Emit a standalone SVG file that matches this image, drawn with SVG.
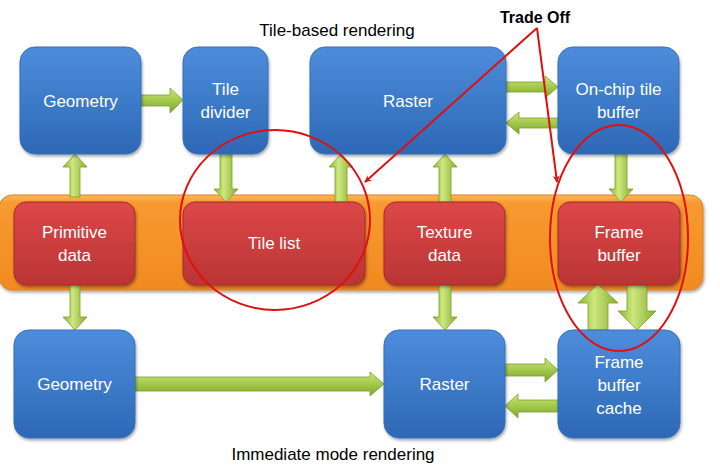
<svg xmlns="http://www.w3.org/2000/svg" width="720" height="468" viewBox="0 0 720 468">
<defs>
<linearGradient id="gBlue" x1="0" y1="0" x2="0" y2="1">
<stop offset="0" stop-color="#4d8ddb"/><stop offset="1" stop-color="#2d68b6"/>
</linearGradient>
<linearGradient id="gRed" x1="0" y1="0" x2="0" y2="1">
<stop offset="0" stop-color="#dc4848"/><stop offset="1" stop-color="#bb3434"/>
</linearGradient>
<linearGradient id="gOrange" x1="0" y1="0" x2="0" y2="1">
<stop offset="0" stop-color="#fbb860"/><stop offset="0.08" stop-color="#f89a30"/><stop offset="1" stop-color="#f08a20"/>
</linearGradient>
<linearGradient id="gGreenV" x1="0" y1="0" x2="1" y2="0">
<stop offset="0" stop-color="#8cb536"/><stop offset="0.4" stop-color="#cde77e"/><stop offset="1" stop-color="#86ae30"/>
</linearGradient>
<linearGradient id="gGreenH" x1="0" y1="0" x2="0" y2="1">
<stop offset="0" stop-color="#cde77e"/><stop offset="0.45" stop-color="#a6cc4f"/><stop offset="1" stop-color="#7fa52c"/>
</linearGradient>
<filter id="sh" x="-10%" y="-10%" width="130%" height="130%">
<feDropShadow dx="1" dy="2" stdDeviation="1.5" flood-color="#000" flood-opacity="0.35"/>
</filter>
<marker id="redHead" viewBox="0 0 10 10" refX="9" refY="5" markerWidth="7" markerHeight="7" orient="auto-start-reverse" markerUnits="userSpaceOnUse">
<path d="M0,0 L10,5 L0,10 L3,5 z" fill="#e01010"/>
</marker>
</defs>
<style>
.blue{fill:url(#gBlue);stroke:#356fbb;stroke-width:1;filter:url(#sh)}
.red{fill:url(#gRed);stroke:#a52a2a;stroke-width:1;filter:url(#sh)}
.lbl{font-family:"Liberation Sans",Arial,sans-serif;font-size:17px;fill:#ffffff;text-anchor:middle}
.ttl{font-family:"Liberation Sans",Arial,sans-serif;font-size:17px;fill:#000;text-anchor:middle}
.av{fill:url(#gGreenV);stroke:#7a9e2a;stroke-width:0.8}
.ah{fill:url(#gGreenH);stroke:#7a9e2a;stroke-width:0.8}
.ann{fill:none;stroke:#e01010;stroke-width:2}
</style>
<rect width="720" height="468" fill="#ffffff"/>

<g id="band">
<rect x="-1" y="195" width="704" height="95" rx="13" fill="url(#gOrange)" stroke="#e0801c" stroke-width="1" filter="url(#sh)"/>
</g>

<g id="connectors">
<polygon class="av" points="75,154 87,167 80,167 80,197 70,197 70,167 63,167"/>
<polygon class="av" points="226,202 238,189 232,189 232,154 220,154 220,189 214,189"/>
<polygon class="av" points="341,154 353,167 347,167 347,202 335,202 335,167 329,167"/>
<polygon class="av" points="445,154 457,167 451,167 451,202 439,202 439,167 433,167"/>
<polygon class="av" points="621,202 633,189 627,189 627,154 615,154 615,189 609,189"/>
<polygon class="av" points="75,330 87,317 80,317 80,285 70,285 70,317 63,317"/>
<polygon class="av" points="445,330 457,317 451,317 451,285 439,285 439,317 433,317"/>
<polygon class="av" points="598,284 618,303 608,303 608,330 588,330 588,303 578,303"/>
<polygon class="av" points="637,330 656,311 647,311 647,285 627,285 627,311 618,311"/>
<polygon class="ah" points="183,100 170,88 170,95 141,95 141,106 170,106 170,113"/>
<polygon class="ah" points="558,87 545,76 545,82 506,82 506,92 545,92 545,98"/>
<polygon class="ah" points="506,123 519,112 519,118 558,118 558,128 519,128 519,134"/>
<polygon class="ah" points="384,384 370,372 370,377 135,377 135,391 370,391 370,396"/>
<polygon class="ah" points="558,370 545,358 545,364 505,364 505,376 545,376 545,382"/>
<polygon class="ah" points="505,406 518,394 518,400 558,400 558,412 518,412 518,418"/>
</g>

<g id="geometry-top"><rect class="blue" x="20" y="47" width="121" height="107" rx="15"/><text class="lbl" x="80.5" y="107">Geometry</text></g>
<g id="tile-divider"><rect class="blue" x="183" y="47" width="85" height="107" rx="15"/><text class="lbl" x="225.5" y="95">Tile</text><text class="lbl" x="225.5" y="118">divider</text></g>
<g id="raster-top"><rect class="blue" x="310" y="47" width="196" height="107" rx="15"/><text class="lbl" x="408" y="107">Raster</text></g>
<g id="onchip-tile-buffer"><rect class="blue" x="558" y="47" width="121" height="107" rx="15"/><text class="lbl" x="618.5" y="95">On-chip tile</text><text class="lbl" x="618.5" y="118">buffer</text></g>

<g id="primitive-data"><rect class="red" x="14" y="202" width="121" height="83" rx="12"/><text class="lbl" x="74.5" y="238">Primitive</text><text class="lbl" x="74.5" y="261">data</text></g>
<g id="tile-list"><rect class="red" x="183" y="202" width="182" height="83" rx="12"/><text class="lbl" x="274" y="249">Tile list</text></g>
<g id="texture-data"><rect class="red" x="384" y="202" width="121" height="83" rx="12"/><text class="lbl" x="444.5" y="238">Texture</text><text class="lbl" x="444.5" y="261">data</text></g>
<g id="frame-buffer"><rect class="red" x="558" y="202" width="122" height="83" rx="12"/><text class="lbl" x="619" y="238">Frame</text><text class="lbl" x="619" y="261">buffer</text></g>

<g id="geometry-bottom"><rect class="blue" x="14" y="330" width="121" height="108" rx="15"/><text class="lbl" x="74.5" y="390">Geometry</text></g>
<g id="raster-bottom"><rect class="blue" x="384" y="330" width="121" height="108" rx="15"/><text class="lbl" x="444.5" y="390">Raster</text></g>
<g id="frame-buffer-cache"><rect class="blue" x="558" y="330" width="122" height="108" rx="15"/><text class="lbl" x="619" y="368">Frame</text><text class="lbl" x="619" y="391">buffer</text><text class="lbl" x="619" y="414">cache</text></g>

<text class="ttl" x="337" y="36">Tile-based rendering</text>
<text class="ttl" x="333" y="460">Immediate mode rendering</text>

<g id="annotations">
<ellipse class="ann" cx="275" cy="220" rx="95" ry="90"/>
<ellipse class="ann" cx="619" cy="238" rx="69" ry="113"/>
<line class="ann" x1="537" y1="28" x2="365" y2="182" marker-end="url(#redHead)"/>
<line class="ann" x1="537" y1="28" x2="557" y2="182" marker-end="url(#redHead)"/>
<text x="535" y="23" font-family="Liberation Sans,Arial,sans-serif" font-size="16" font-weight="bold" fill="#000" text-anchor="middle">Trade Off</text>
</g>
</svg>
